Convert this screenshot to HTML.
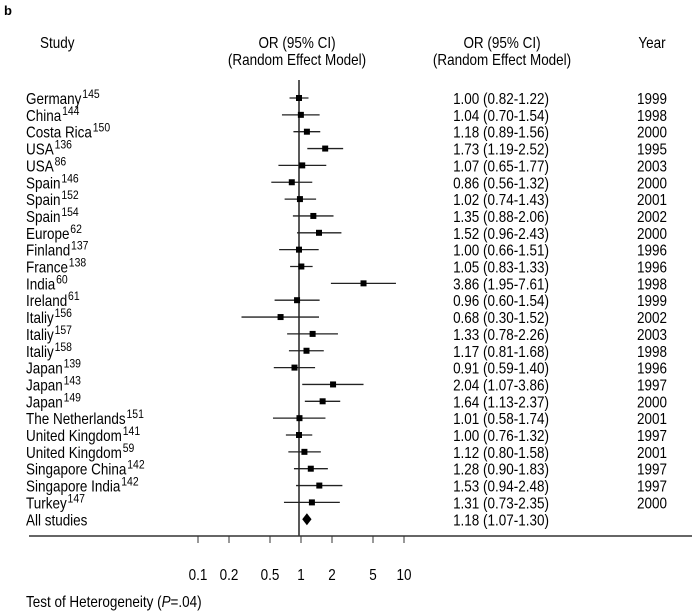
<!DOCTYPE html>
<html><head><meta charset="utf-8"><style>
html,body{margin:0;padding:0;background:#fff;}
svg{display:block;font-family:"Liberation Sans",sans-serif;}
</style></head><body>
<svg id="chart" width="700" height="614" viewBox="0 0 700 614"></svg>
<script>
const studies=["Germany","China","Costa Rica","USA","USA","Spain","Spain","Spain","Europe","Finland","France","India","Ireland","Italiy","Italiy","Italiy","Japan","Japan","Japan","The Netherlands","United Kingdom","United Kingdom","Singapore China","Singapore India","Turkey"];
const refs=["145","144","150","136","86","146","152","154","62","137","138","60","61","156","157","158","139","143","149","151","141","59","142","142","147"];
const orVals=[1.00,1.04,1.18,1.73,1.07,0.86,1.02,1.35,1.52,1.00,1.05,3.86,0.96,0.68,1.33,1.17,0.91,2.04,1.64,1.01,1.00,1.12,1.28,1.53,1.31];
const ciLow=[0.82,0.70,0.89,1.19,0.65,0.56,0.74,0.88,0.96,0.66,0.83,1.95,0.60,0.30,0.78,0.81,0.59,1.07,1.13,0.58,0.76,0.80,0.90,0.94,0.73];
const ciHigh=[1.22,1.54,1.56,2.52,1.77,1.32,1.43,2.06,2.43,1.51,1.33,7.61,1.54,1.52,2.26,1.68,1.40,3.86,2.37,1.74,1.32,1.58,1.83,2.48,2.35];
const years=["1999","1998","2000","1995","2003","2000","2001","2002","2000","1996","1996","1998","1999","2002","2003","1998","1996","1997","2000","2001","1997","2001","1997","1997","2000"];
const pooled=[1.18,1.07,1.30];
const ticks=[0.1,0.2,0.5,1,2,5,10];
const tickLabels=["0.1","0.2","0.5","1","2","5","10"];

const NS="http://www.w3.org/2000/svg";
const svg=document.getElementById('chart');
const SX=0.87;
function x(v){return 299+110*Math.log10(v);}
function xt(v){return 301+103*Math.log10(v);}
function y(i){return 98+i*16.85;}
function fmt(v){return v.toFixed(2);}
function mk(tag,attrs,text){const e=document.createElementNS(NS,tag);for(const k in attrs)e.setAttribute(k,attrs[k]);if(text!==undefined)e.textContent=text;svg.appendChild(e);return e;}
function txt(px,py,s,anchor){const e=mk('text',{x:0,y:0,'font-size':15.5,transform:'translate('+px+','+py+') scale('+SX+',1)'},s);if(anchor)e.setAttribute('text-anchor',anchor);return e;}
let e;
e=mk('text',{x:4,y:15,'font-size':13,'font-weight':'bold'},'b');


e=txt(40,48,'Study');


e=txt(297,48,'OR (95% CI)','middle');


e=txt(297,65,'(Random Effect Model)','middle');


e=txt(502,48,'OR (95% CI)','middle');


e=txt(502,65,'(Random Effect Model)','middle');


e=txt(652,48,'Year','middle');


e=mk('line',{x1:x(1),y1:80,x2:x(1),y2:536,stroke:'#222','stroke-width':1.5});


studies.forEach((s,i)=>{
  const yy=y(i);
  const t=txt(26,yy+6,'');
  
  
  const a=document.createElementNS(NS,'tspan');a.textContent=s;t.appendChild(a);
  const b=document.createElementNS(NS,'tspan');b.textContent=refs[i];b.setAttribute('font-size',12);b.setAttribute('dy',-6);b.setAttribute('dx',1);t.appendChild(b);
  let l=mk('line',{x1:x(ciLow[i]),x2:x(ciHigh[i]),y1:yy,y2:yy,stroke:'#222','stroke-width':1.3});
  
  
  let r=mk('rect',{x:x(orVals[i])-3,y:yy-3,width:6,height:6,fill:'#000'});
  
  
  let v=txt(501,yy+6,fmt(orVals[i])+' ('+fmt(ciLow[i])+'-'+fmt(ciHigh[i])+')','middle');
  
  
  let yr=txt(652,yy+6,years[i],'middle');
  
  
});
const py=y(studies.length);
e=txt(26,py+6,'All studies');


e=mk('polygon',{points:[x(pooled[1])+','+py,x(pooled[0])+','+(py-6),x(pooled[2])+','+py,x(pooled[0])+','+(py+6)].join(' '),fill:'#000'});


e=txt(501,py+6,fmt(pooled[0])+' ('+fmt(pooled[1])+'-'+fmt(pooled[2])+')','middle');


e=mk('line',{x1:29,x2:692,y1:536,y2:536,stroke:'#333','stroke-width':1.5});


ticks.forEach((t,i)=>{
  let l=mk('line',{x1:xt(t),x2:xt(t),y1:536,y2:543,stroke:'#333','stroke-width':1});
  
  
  let tx=txt(xt(t),580,tickLabels[i],'middle');
  
  
});
const f=txt(26,607,'');


const t1=document.createElementNS(NS,'tspan');t1.textContent='Test of Heterogeneity (';f.appendChild(t1);
const t2=document.createElementNS(NS,'tspan');t2.textContent='P';t2.setAttribute('font-style','italic');f.appendChild(t2);
const t3=document.createElementNS(NS,'tspan');t3.textContent='=.04)';f.appendChild(t3);
</script>
</body></html>
